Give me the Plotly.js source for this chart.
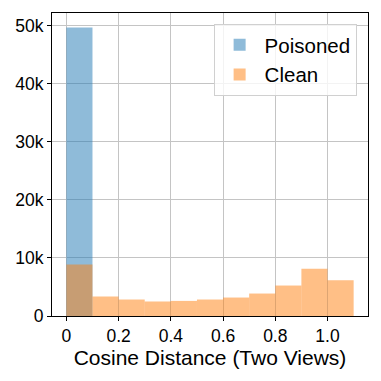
<!DOCTYPE html>
<html>
<head>
<meta charset="utf-8">
<script src="https://cdn.plot.ly/plotly-3.0.1.min.js"></script>
<style>
  html, body { margin: 0; padding: 0; background: #fff; }
  #plot { width: 381px; height: 381px; }
</style>
</head>
<body>
<div id="plot"></div>
<script>
// bin left edges, width 0.1
var binStarts = [0.0, 0.1, 0.2, 0.3, 0.4, 0.5, 0.6, 0.7, 0.8, 0.9, 1.0];
var poisonedStarts = [0.0];
var poisonedCounts = [49700];
var cleanCounts = [8860, 3360, 2840, 2500, 2600, 2840, 3180, 3870, 5250, 8120, 6160];

var xTickVals = [0, 0.2, 0.4, 0.6, 0.8, 1.0];
var xTickText = ['0', '0.2', '0.4', '0.6', '0.8', '1.0'];
var yTickVals = [0, 10000, 20000, 30000, 40000, 50000];
var yTickText = ['0', '10k', '20k', '30k', '40k', '50k'];

var font = 'Liberation Sans, Arial, sans-serif';

var data = [
    {
        type: 'bar',
        name: 'Poisoned',
        x: poisonedStarts,
        y: poisonedCounts,
        width: 0.1,
        offset: 0,
        marker: { color: 'rgba(31, 119, 180, 0.5)', line: { width: 0 } }
    },
    {
        type: 'bar',
        name: 'Clean',
        x: binStarts,
        y: cleanCounts,
        width: 0.1,
        offset: 0,
        marker: { color: 'rgba(255, 127, 14, 0.5)', line: { width: 0 } }
    }
];

var axisCommon = {
    showline: true,
    mirror: true,
    linecolor: '#000',
    linewidth: 1,
    ticks: 'outside',
    ticklen: 4,
    tickcolor: '#000',
    showgrid: true,
    gridcolor: '#c4c4c4',
    gridwidth: 1,
    zeroline: false,
    tickfont: { family: font, size: 17.5, color: '#000' }
};

var layout = {
    width: 381,
    height: 381,
    margin: { l: 52, r: 13, t: 13, b: 65 },
    paper_bgcolor: '#fff',
    plot_bgcolor: '#fff',
    barmode: 'overlay',
    font: { family: font, color: '#000' },
    xaxis: Object.assign({}, axisCommon, {
        range: [-0.055, 1.155],
        tickmode: 'array',
        tickvals: xTickVals,
        ticktext: xTickText,
        title: { text: 'Cosine Distance (Two Views)', font: { family: font, size: 21, color: '#000' }, standoff: 3 }
    }),
    yaxis: Object.assign({}, axisCommon, {
        range: [0, 52200],
        tickmode: 'array',
        tickvals: yTickVals,
        ticktext: yTickText
    }),
    legend: {
        x: 0.964,
        y: 0.964,
        xanchor: 'right',
        yanchor: 'top',
        bgcolor: 'rgba(255,255,255,0.8)',
        bordercolor: '#d0d0d0',
        borderwidth: 1,
        itemwidth: 40,
        font: { family: font, size: 20.5, color: '#000' }
    },
    showlegend: true
};

Plotly.newPlot('plot', data, layout, { displayModeBar: false, staticPlot: true });
</script>
</body>
</html>
